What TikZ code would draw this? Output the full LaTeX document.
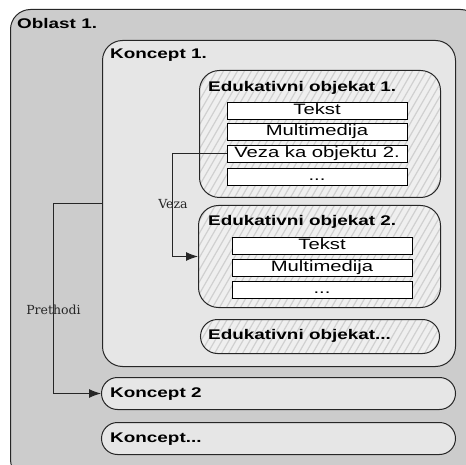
\documentclass[tikz,border=0pt]{standalone}
\usepackage{fontspec}
\newfontfamily\hdfont[FakeStretch=1.35]{Liberation Sans Bold}
\newfontfamily\bxfont[FakeStretch=1.35]{Liberation Sans}
\newfontfamily\lbfont{DejaVu Serif}
\usetikzlibrary{arrows.meta}
\definecolor{areagray}{HTML}{CCCCCC}
\definecolor{conceptgray}{HTML}{E6E6E6}
\definecolor{objbg}{HTML}{EFEFEF}
\definecolor{hatchgray}{HTML}{D0D0D0}
\definecolor{edge}{HTML}{262626}

\begin{document}
\begin{tikzpicture}[x=1pt,y=-1pt,
  panel/.style={draw=edge, line width=1pt, rounded corners=20pt,
    anchor=north west, inner sep=0pt},
  area/.style={panel, fill=areagray},
  concept/.style={panel, fill=conceptgray},
  pill/.style={panel, fill=conceptgray, rounded corners=16pt},
  hatch/.style={path picture={
      \foreach \k in {-30,...,40}
        \draw[hatchgray, line width=1.2pt]
          ([xshift=\k*7pt]path picture bounding box.south west) -- ++(150pt,260pt);}},
  object/.style={panel, fill=objbg, hatch},
  heading/.style={font=\hdfont\fontsize{14}{16}\selectfont, anchor=base west, inner sep=0pt},
  item/.style={draw=black, line width=0.9pt, fill=white, minimum width=180pt,
    minimum height=17pt, inner sep=0pt, text height=11pt, text depth=3pt,
    font=\bxfont\fontsize{15}{17}\selectfont},
  linklabel/.style={font=\lbfont\fontsize{12.5}{14}\selectfont, text=black!85,
    anchor=base, inner sep=0pt},
  link/.style={draw=edge, line width=1pt, -{Latex[length=12pt,width=9pt]}}
]
\clip (0,0) rectangle (466,465);

% area
\node[area, minimum width=470pt, minimum height=470pt] (oblast) at (10,9) {};
\node[heading] (oblastT) at (17,29) {Oblast 1.};

% concept 1 with its learning objects
\node[concept, minimum width=353pt, minimum height=326pt] (k1) at (102,40) {};
\node[heading] (k1T) at (110,59) {Koncept 1.};

\node[object, minimum width=241pt, minimum height=127pt] (eo1) at (199,70) {};
\node[heading] (eo1T) at (208,92) {Edukativni objekat 1.};
\node[item] (t1) at (317,111) {Tekst};
\node[item] (m1) at (317,132) {Multimedija};
\node[item] (v1) at (317,154) {Veza ka objektu 2.};
\node[item] (d1) at (317,177) {...};

\node[object, minimum width=242pt, minimum height=102pt] (eo2) at (198,205) {};
\node[heading] (eo2T) at (208,226) {Edukativni objekat 2.};
\node[item] (t2) at (322,246) {Tekst};
\node[item] (m2) at (322,268) {Multimedija};
\node[item] (d2) at (322,290) {...};

\node[object, rounded corners=17pt, minimum width=239pt, minimum height=34pt] (eo3) at (200,319) {};
\node[heading] (eo3T) at (208,339) {Edukativni objekat...};

% further concepts
\node[pill, minimum width=354pt, minimum height=32pt] (k2) at (101,377) {};
\node[heading] (k2T) at (110,397) {Koncept 2};
\node[pill, minimum width=354pt, minimum height=32pt] (k3) at (101,422) {};
\node[heading] (k3T) at (110,442) {Koncept...};

% links
\coordinate (vx) at (172,0);
\coordinate (px) at (53,0);
\draw[link] (v1.west) -- (v1.west -| vx) |- (eo2.west);
\node[linklabel] (vezaL) at (173,209) {Veza};
\draw[link] (k1.west) -- (k1.west -| px) |- (k2.west);
\node[linklabel] (prethodiL) at (53.5,314) {Prethodi};
\end{tikzpicture}
\end{document}
